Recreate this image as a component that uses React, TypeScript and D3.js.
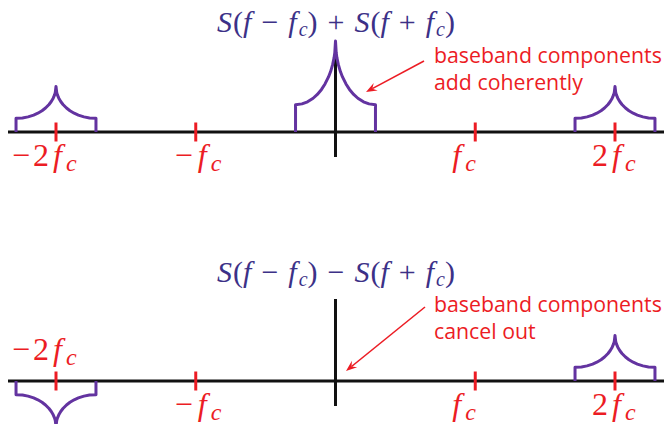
import React from "react";
import * as d3 from "d3";

// Baseband spectrum S(f): one-sided shape, offset from band centre (in units of fc) -> amplitude
const bandOffsets = [0, 0.005, 0.01, 0.02, 0.035, 0.05, 0.075, 0.1, 0.13, 0.16, 0.2, 0.24, 0.286];
const bandShape = [1, 0.87, 0.817, 0.743, 0.664, 0.605, 0.528, 0.468, 0.413, 0.371, 0.332, 0.309, 0.3];

// Sum panel: copies of S at -2fc, 0, +2fc
const sumCenters = [-2, 0, 2];
const sumGains = [1, 2, 1];
// Difference panel: baseband copies cancel
const diffCenters = [-2, 2];
const diffGains = [-1, 1];

// Frequency ticks (multiples of fc) and their coefficients
const tickValues = [-2, -1, 1, 2];
const tickCoeffs = ["−2", "−", "", "2"];

const sumNote = ["baseband components", "add coherently"];
const diffNote = ["baseband components", "cancel out"];

const W = 668;
const H = 424;
const RED = "#ec1c24";
const PURPLE = "#6333a0";
const INDIGO = "#3c3187";
const SERIF = "'Liberation Serif', 'DejaVu Serif', serif";
const SANS = "'Open Sans', 'Noto Sans', sans-serif";

const x = d3.scaleLinear().domain([-2, 2]).range([56, 615]);
const halfWidth = bandOffsets[bandOffsets.length - 1];

function lobePath(center: number, gain: number, axisY: number) {
  const y = d3.scaleLinear().domain([0, 1]).range([axisY, axisY - 45.5]);
  const pts: [number, number][] = [];
  pts.push([center - halfWidth, 0]);
  for (let i = bandOffsets.length - 1; i >= 0; i--) pts.push([center - bandOffsets[i], gain * bandShape[i]]);
  for (let i = 1; i < bandOffsets.length; i++) pts.push([center + bandOffsets[i], gain * bandShape[i]]);
  pts.push([center + halfWidth, 0]);
  const line = d3
    .line<[number, number]>()
    .x((d) => x(d[0]))
    .y((d) => y(d[1]))
    .curve(d3.curveLinear);
  return line(pts) || "";
}

function Arrow({ x1, y1, x2, y2 }: { x1: number; y1: number; x2: number; y2: number }) {
  const a = Math.atan2(y2 - y1, x2 - x1);
  const len = 11;
  const hw = 4.2;
  const bx = x2 - len * Math.cos(a);
  const by = y2 - len * Math.sin(a);
  const nx = -Math.sin(a);
  const ny = Math.cos(a);
  const nxp = x2 - len * 0.65 * Math.cos(a);
  const nyp = y2 - len * 0.65 * Math.sin(a);
  const head = `M${x2},${y2} L${bx + nx * hw},${by + ny * hw} L${nxp},${nyp} L${bx - nx * hw},${by - ny * hw} Z`;
  return (
    <g>
      <line x1={x1} y1={y1} x2={nxp} y2={nyp} stroke={RED} strokeWidth={1.6} />
      <path d={head} fill={RED} />
    </g>
  );
}

function FreqLabel({ coeff, px, baseline }: { coeff: string; px: number; baseline: number }) {
  const hasMinus = coeff.startsWith("−");
  const digit = hasMinus ? coeff.slice(1) : coeff;
  return (
    <text x={px} y={baseline} fill={RED} fontFamily={SERIF} fontSize={32}>
      {hasMinus && <tspan>−</tspan>}
      {digit && <tspan dx={hasMinus ? 3 : 0}>{digit}</tspan>}
      <tspan fontStyle="italic" dx={digit ? 4 : hasMinus ? 5 : 0}>f</tspan>
      <tspan fontStyle="italic" fontSize={24} dy={5} dx={4}>c</tspan>
    </text>
  );
}

function Title({ op, baseline }: { op: string; baseline: number }) {
  const sp = 2.5;
  return (
    <text x={336} y={baseline} textAnchor="middle" fill={INDIGO} fontFamily={SERIF} fontSize={30}>
      <tspan fontStyle="italic">S</tspan>
      <tspan dx={1}>(</tspan>
      <tspan fontStyle="italic">f</tspan>
      <tspan dx={sp}> − </tspan>
      <tspan fontStyle="italic" dx={sp}>f</tspan>
      <tspan fontStyle="italic" fontSize={20} dy={4} dx={2}>c</tspan>
      <tspan dy={-4}>)</tspan>
      <tspan dx={sp}> {op} </tspan>
      <tspan fontStyle="italic" dx={sp}>S</tspan>
      <tspan dx={1}>(</tspan>
      <tspan fontStyle="italic">f</tspan>
      <tspan dx={sp}> + </tspan>
      <tspan fontStyle="italic" dx={sp}>f</tspan>
      <tspan fontStyle="italic" fontSize={20} dy={4} dx={2}>c</tspan>
      <tspan dy={-4}>)</tspan>
    </text>
  );
}

// label start offsets relative to each tick
const labelDx = [-44, -21, -23, -23];

function Panel({
  axisY,
  centers,
  gains,
  op,
  titleY,
  note,
  noteY,
  arrow,
  labelAbove,
}: {
  axisY: number;
  centers: number[];
  gains: number[];
  op: string;
  titleY: number;
  note: string[];
  noteY: number;
  arrow: [number, number, number, number];
  labelAbove: boolean[];
}) {
  return (
    <g>
      <Title op={op} baseline={titleY} />
      <line x1={8} x2={664} y1={axisY} y2={axisY} stroke="#111" strokeWidth={3} />
      <line x1={x(0)} x2={x(0)} y1={axisY - 82} y2={axisY + 25} stroke="#111" strokeWidth={3} />
      {tickValues.map((t, i) => (
        <g key={t}>
          <line x1={x(t)} x2={x(t)} y1={axisY - 9.5} y2={axisY + 9.5} stroke={RED} strokeWidth={3} />
          <FreqLabel
            coeff={tickCoeffs[i]}
            px={x(t) + labelDx[i]}
            baseline={labelAbove[i] ? axisY - 21 : axisY + 34}
          />
        </g>
      ))}
      {centers.map((c, i) => (
        <path
          key={c}
          d={lobePath(c, gains[i], axisY)}
          fill="none"
          stroke={PURPLE}
          strokeWidth={3}
          strokeLinejoin="round"
        />
      ))}
      {note.map((s, i) => (
        <text key={i} x={434} y={noteY + i * 27.8} fill={RED} fontFamily={SANS} fontSize={21.3}>
          {s}
        </text>
      ))}
      <Arrow x1={arrow[0]} y1={arrow[1]} x2={arrow[2]} y2={arrow[3]} />
    </g>
  );
}

export default function App() {
  return (
    <svg
      width={W}
      height={H}
      viewBox={`0 0 ${W} ${H}`}
      style={{ position: "fixed", left: 0, top: 0, display: "block", background: "#fff" }}
    >
      <rect width={W} height={H} fill="#fff" />
      <Panel
        axisY={132}
        centers={sumCenters}
        gains={sumGains}
        op="+"
        titleY={31.5}
        note={sumNote}
        noteY={62.5}
        arrow={[424, 61, 366, 92]}
        labelAbove={[false, false, false, false]}
      />
      <Panel
        axisY={381}
        centers={diffCenters}
        gains={diffGains}
        op="−"
        titleY={281.5}
        note={diffNote}
        noteY={311.5}
        arrow={[425, 307, 346, 371]}
        labelAbove={[true, false, false, false]}
      />
    </svg>
  );
}
